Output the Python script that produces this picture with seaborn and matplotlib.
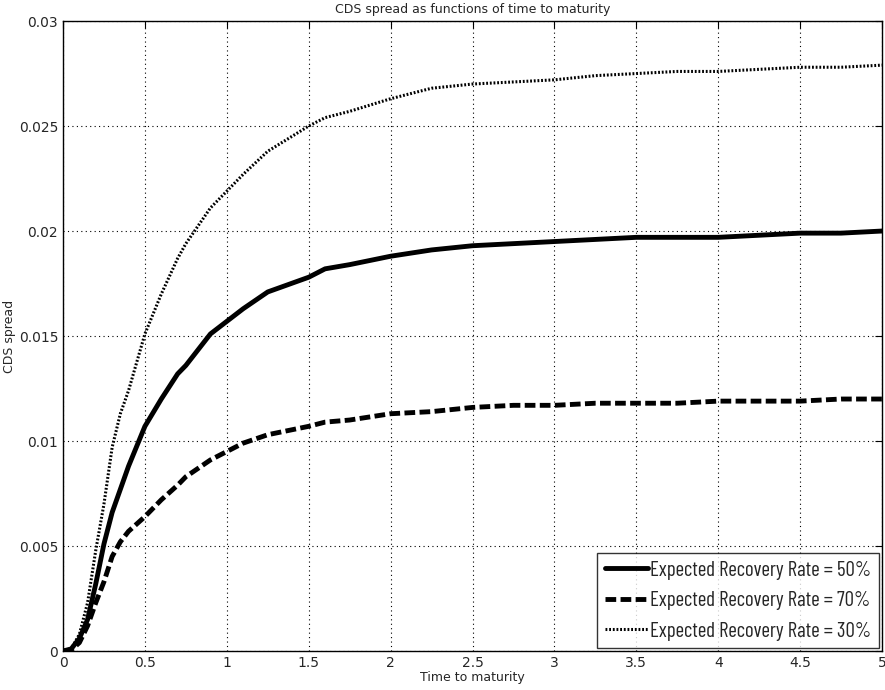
import numpy as np
import pandas as pd
import matplotlib
matplotlib.use('Agg')
import matplotlib.pyplot as plt
import seaborn as sns

# values
maturity = [0, 0.05, 0.1, 0.15, 0.2, 0.25, 0.3, 0.35, 0.4, 0.5, 0.6, 0.7, 0.75, 0.9, 1.0,
            1.1, 1.25, 1.5, 1.6, 1.75, 2.0, 2.25, 2.5, 2.75, 3.0, 3.25, 3.5, 3.75, 4.0,
            4.25, 4.5, 4.75, 5.0]
spread_50 = [0, 0.0001, 0.0006, 0.0015, 0.0032, 0.0051, 0.0066, 0.0077, 0.0088, 0.0107,
             0.0120, 0.0132, 0.0136, 0.0151, 0.0157, 0.0163, 0.0171, 0.0178, 0.0182, 0.0184,
             0.0188, 0.0191, 0.0193, 0.0194, 0.0195, 0.0196, 0.0197, 0.0197, 0.0197, 0.0198,
             0.0199, 0.0199, 0.0200]
spread_70 = [0, 0.00005, 0.0004, 0.0012, 0.0023, 0.0033, 0.0045, 0.0052, 0.0057, 0.0064,
             0.0072, 0.0079, 0.0083, 0.0091, 0.0095, 0.0099, 0.0103, 0.0107, 0.0109, 0.0110,
             0.0113, 0.0114, 0.0116, 0.0117, 0.0117, 0.0118, 0.0118, 0.0118, 0.0119, 0.0119,
             0.0119, 0.0120, 0.0120]
spread_30 = [0, 0.0001, 0.0008, 0.0023, 0.0048, 0.0070, 0.0097, 0.0113, 0.0124, 0.0151,
             0.0170, 0.0187, 0.0194, 0.0211, 0.0219, 0.0227, 0.0238, 0.0250, 0.0254, 0.0257,
             0.0263, 0.0268, 0.0270, 0.0271, 0.0272, 0.0274, 0.0275, 0.0276, 0.0276, 0.0277,
             0.0278, 0.0278, 0.0279]
labels = ['Expected Recovery Rate = 50%', 'Expected Recovery Rate = 70%',
          'Expected Recovery Rate = 30%']

df = pd.DataFrame({'t': maturity, labels[0]: spread_50, labels[1]: spread_70,
                   labels[2]: spread_30})
long_df = df.melt(id_vars='t', var_name='series', value_name='spread')

sns.set_style('white')
plt.rcParams['font.family'] = ['DejaVu Sans']

fig = plt.figure(figsize=(8.85, 6.9), dpi=100)
ax = fig.add_axes([0.0712, 0.0565, 0.9254, 0.913])

# line style and width for each recovery rate
styles = {labels[0]: ('-', 3.5), labels[1]: ((0, (2.2, 0.9)), 3.5), labels[2]: ((0, (0.6, 0.6)), 2.2)}
for lab in labels:
    ls, lw = styles[lab]
    sns.lineplot(data=long_df[long_df['series'] == lab], x='t', y='spread', color='black',
                 linestyle=ls, linewidth=lw, label=lab, ax=ax)

ax.set_xlim(0, 5)
ax.set_ylim(0, 0.03)
ax.set_xticks(np.arange(0, 5.01, 0.5))
ax.set_xticklabels(['0', '0.5', '1', '1.5', '2', '2.5', '3', '3.5', '4', '4.5', '5'])
ax.set_yticks(np.arange(0, 0.0301, 0.005))
ax.set_yticklabels(['0', '0.005', '0.01', '0.015', '0.02', '0.025', '0.03'])
ax.grid(True, linestyle=(0, (1, 3)), color='black', linewidth=0.8)
ax.tick_params(direction='in', length=5, top=True, right=True, labelsize=10, color='black')
for s in ax.spines.values():
    s.set_color('black')
    s.set_linewidth(1)
ax.set_xlabel('Time to maturity', fontsize=9, labelpad=1)
ax.set_ylabel('CDS spread', fontsize=9)
ax.yaxis.set_label_coords(-0.058, 0.5)
ax.set_title('CDS spread as functions of time to maturity', fontsize=9, pad=6)

leg = ax.legend(loc='lower right', frameon=True, fancybox=False, edgecolor='black',
                handlelength=2.1, handletextpad=0.1, borderaxespad=0.15, labelspacing=0.55,
                borderpad=0.35, prop={'family': ['Barlow Condensed', 'DejaVu Sans'], 'size': 15})
leg.get_frame().set_linewidth(1)

fig.savefig('out.png', dpi=100)
